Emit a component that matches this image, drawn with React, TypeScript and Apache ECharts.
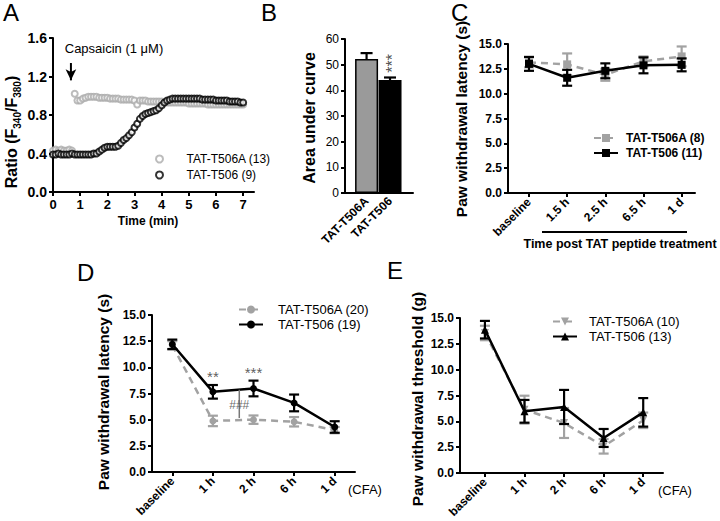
import React, { useEffect, useRef } from 'react';
import * as echarts from 'echarts';

const FONT = "'Liberation Sans', Arial, sans-serif";
const GRAY = '#a2a2a2';
const GRAY_A = '#ababab';

// Panel A: calcium imaging ratio over time
const TIME_A = [
  0, 0.1, 0.2, 0.3, 0.4, 0.5, 0.6, 0.7, 0.8, 0.9,
  1.0, 1.1, 1.2, 1.3, 1.4, 1.5, 1.6, 1.7, 1.8, 1.9,
  2.0, 2.1, 2.2, 2.3, 2.4, 2.5, 2.6, 2.7, 2.8, 2.9,
  3.0, 3.1, 3.2, 3.3, 3.4, 3.5, 3.6, 3.7, 3.8, 3.9,
  4.0, 4.1, 4.2, 4.3, 4.4, 4.5, 4.6, 4.7, 4.8, 4.9,
  5.0, 5.1, 5.2, 5.3, 5.4, 5.5, 5.6, 5.7, 5.8, 5.9,
  6.0, 6.1, 6.2, 6.3, 6.4, 6.5, 6.6, 6.7, 6.8, 6.9,
  7.0,
];
const RATIO_T506A = [
  0.43, 0.44, 0.43, 0.44, 0.43, 0.43, 0.44, 0.43, 1.02, 0.95,
  0.95, 0.97, 0.98, 0.99, 0.99, 0.99, 0.99, 0.98, 0.98, 0.98,
  0.98, 0.97, 0.97, 0.97, 0.97, 0.96, 0.96, 0.96, 0.96, 0.96,
  0.95, 0.91, 0.95, 0.95, 0.95, 0.94, 0.94, 0.94, 0.94, 0.94,
  0.94, 0.93, 0.93, 0.93, 0.93, 0.93, 0.93, 0.93, 0.93, 0.93,
  0.92, 0.92, 0.92, 0.92, 0.92, 0.92, 0.92, 0.91, 0.91, 0.91,
  0.91, 0.91, 0.91, 0.91, 0.91, 0.91, 0.91, 0.91, 0.91, 0.91,
  0.91,
];
const RATIO_T506 = [
  0.39, 0.39, 0.40, 0.39, 0.39, 0.39, 0.39, 0.40, 0.39, 0.39,
  0.39, 0.39, 0.39, 0.39, 0.39, 0.40, 0.40, 0.42, 0.44, 0.46,
  0.47, 0.47, 0.47, 0.47, 0.48, 0.51, 0.54, 0.56, 0.59, 0.62,
  0.67, 0.71, 0.76, 0.79, 0.81, 0.82, 0.83, 0.84, 0.85, 0.87,
  0.90, 0.93, 0.95, 0.96, 0.97, 0.97, 0.97, 0.97, 0.97, 0.97,
  0.97, 0.97, 0.97, 0.97, 0.97, 0.96, 0.96, 0.96, 0.96, 0.96,
  0.95, 0.95, 0.95, 0.95, 0.95, 0.94, 0.94, 0.94, 0.94, 0.93,
  0.93,
];
const TICKS_A_X = [0, 1, 2, 3, 4, 5, 6, 7];
const ARROW_A = [[0.66, 1.34], [0.66, 1.16]];

// Panel B: area under curve
const AUC_CATS = ['TAT-T506A', 'TAT-T506'];
const AUC_X = [0, 1];
const AUC_MEAN = [52.2, 44.0];
const AUC_SEM = [2.3, 1.0];

// Panels C–E
const PANEL_X = [0, 1, 2, 3, 4];
const C_CATS = ['baseline', '1.5 h', '2.5 h', '6.5 h', '1 d'];
const C_T506A = [13.15, 12.95, 11.9, 13.25, 13.75];
const C_T506A_SEM = [0.5, 1.1, 0.6, 0.5, 1.0];
const C_T506 = [13.0, 11.6, 12.3, 12.85, 12.9];
const C_T506_SEM = [0.7, 0.8, 0.75, 0.8, 0.65];

const D_CATS = ['baseline', '1 h', '2 h', '6 h', '1 d'];
const D_T506A = [12.1, 4.88, 5.0, 4.8, 4.0];
const D_T506A_SEM = [0.4, 0.5, 0.4, 0.45, 0.3];
const D_T506 = [12.2, 7.66, 7.98, 6.6, 4.3];
const D_T506_SEM = [0.45, 0.65, 0.75, 0.8, 0.55];
const D_BRACKET = [[1.65, 7.85], [1.65, 5.15]];

const E_CATS = ['baseline', '1 h', '2 h', '6 h', '1 d'];
const E_T506A = [13.55, 6.13, 4.84, 2.58, 5.1];
const E_T506A_SEM = [0.7, 1.35, 1.45, 0.7, 0.75];
const E_T506 = [13.87, 5.97, 6.39, 3.39, 5.87];
const E_T506_SEM = [0.85, 1.1, 1.65, 0.87, 1.38];

function makeErr(capHalf: number, color: string, width: number, upOnly = false) {
  return (_params: any, api: any) => {
    const x = api.value(0);
    const y = api.value(1);
    const e = api.value(2);
    const top = api.coord([x, y + e]);
    const bot = api.coord(upOnly ? [x, y] : [x, y - e]);
    const style = { stroke: color, lineWidth: width };
    const children: any[] = [
      { type: 'line', shape: { x1: top[0], y1: top[1], x2: bot[0], y2: bot[1] }, style },
      { type: 'line', shape: { x1: top[0] - capHalf, y1: top[1], x2: top[0] + capHalf, y2: top[1] }, style },
    ];
    if (!upOnly) {
      children.push({ type: 'line', shape: { x1: bot[0] - capHalf, y1: bot[1], x2: bot[0] + capHalf, y2: bot[1] }, style });
    }
    return { type: 'group', children };
  };
}

const axisLine = { show: true, onZero: false, lineStyle: { color: '#000', width: 2 } };
const axisTick = (extra: any = {}) => ({ show: true, inside: false, length: 4, lineStyle: { color: '#000', width: 2 }, ...extra });
const lbl = (fs: number, extra: any = {}) => ({ color: '#000', fontSize: fs, fontWeight: 'bold', fontFamily: FONT, margin: 6, ...extra });

function yAxisLatency(idx: number) {
  return {
    type: 'value', gridIndex: idx, min: 0, max: 15, interval: 2.5,
    axisLine, axisTick: axisTick(), splitLine: { show: false },
    axisLabel: lbl(12, { formatter: (v: number) => v.toFixed(1) }),
  };
}
function xAxisCats(idx: number, min: number, max: number, cats: string[]) {
  return {
    type: 'value', gridIndex: idx, min, max,
    axisLine, splitLine: { show: false },
    axisTick: axisTick({ customValues: PANEL_X }),
    axisLabel: lbl(12, { rotate: 45, margin: 7, customValues: PANEL_X, formatter: (v: number) => cats[Math.round(v)] ?? '' }),
  };
}

function pairs(xs: number[], ys: number[]) {
  return xs.map((x, i) => [x, ys[i]]);
}
function triples(xs: number[], ys: number[], es: number[]) {
  return xs.map((x, i) => [x, ys[i], es[i]]);
}

function lineSeries(name: string, idx: number, ys: number[], gray: boolean, symbol: string, size: number, rotate = 0) {
  return {
    type: 'line', name, xAxisIndex: idx, yAxisIndex: idx,
    data: pairs(PANEL_X, ys),
    symbol, symbolSize: size, symbolRotate: rotate, showSymbol: true,
    lineStyle: gray ? { color: GRAY, width: 2.5, type: [7, 5] } : { color: '#000', width: 2.5 },
    itemStyle: { color: gray ? GRAY : '#000' },
    z: gray ? 3 : 5,
  };
}
function errSeries(idx: number, ys: number[], es: number[], gray: boolean) {
  return {
    type: 'custom', xAxisIndex: idx, yAxisIndex: idx,
    renderItem: makeErr(5, gray ? GRAY : '#000', 2.2),
    data: triples(PANEL_X, ys, es),
    z: gray ? 2 : 4,
    silent: true,
  };
}

function textAnno(idx: number, items: { name: string; value: number[] }[], fontSize: number, color: string, extra: any = {}) {
  return {
    type: 'scatter', xAxisIndex: idx, yAxisIndex: idx, silent: true,
    symbolSize: 1, itemStyle: { color: 'rgba(0,0,0,0)' },
    label: { show: true, position: 'inside', color, fontSize, fontFamily: FONT, formatter: (p: any) => p.name, ...extra },
    data: items, z: 10,
  };
}

function title(text: string, x: number, y: number, fs = 17, rotate = true, extra: any = {}) {
  return {
    type: 'text', x, y, rotation: rotate ? Math.PI / 2 : 0,
    style: {
      text, fill: '#000', font: `bold ${fs}px ${FONT}`,
      textAlign: 'center', textVerticalAlign: 'middle', align: 'center', verticalAlign: 'middle', ...extra,
    },
  };
}
function letter(text: string, x: number, y: number) {
  return { type: 'text', x, y, style: { text, fill: '#000', font: `24px ${FONT}`, textVerticalAlign: 'top', verticalAlign: 'top' } };
}

export default function App() {
  const ref = useRef<HTMLDivElement>(null);
  useEffect(() => {
    if (!ref.current) return;
    const chart = echarts.init(ref.current, undefined, { renderer: 'svg' });
    const legendText = (fs: number, bold: boolean, padLeft: number) => ({
      color: '#000', fontSize: fs, fontFamily: FONT, fontWeight: bold ? 'bold' : 'normal', padding: [0, 0, 0, padLeft],
    });
    const option: any = {
      animation: false,
      backgroundColor: '#fff',
      grid: [
        { left: 53, top: 38, width: 201, height: 154 },
        { left: 345, top: 39, width: 68, height: 154 },
        { left: 508, top: 44, width: 187, height: 149 },
        { left: 152, top: 315, width: 203, height: 157 },
        { left: 460, top: 318, width: 203, height: 155 },
      ],
      xAxis: [
        {
          type: 'value', gridIndex: 0, min: 0, max: 7.4,
          axisLine, splitLine: { show: false },
          axisTick: axisTick({ customValues: TICKS_A_X }),
          axisLabel: lbl(13, { customValues: TICKS_A_X, margin: 6 }),
        },
        {
          type: 'value', gridIndex: 1, min: -0.92, max: 1.98,
          axisLine, splitLine: { show: false }, axisTick: { show: false },
          axisLabel: lbl(12, { rotate: 45, margin: 6, customValues: AUC_X, formatter: (v: number) => AUC_CATS[Math.round(v)] ?? '' }),
        },
        xAxisCats(2, -0.55, 4.35, C_CATS),
        xAxisCats(3, -0.5, 4.5, D_CATS),
        xAxisCats(4, -0.63, 4.5, E_CATS),
      ],
      yAxis: [
        {
          type: 'value', gridIndex: 0, min: 0, max: 1.6, interval: 0.4,
          axisLine, axisTick: axisTick(), splitLine: { show: false },
          axisLabel: lbl(14, { formatter: (v: number) => v.toFixed(1) }),
        },
        {
          type: 'value', gridIndex: 1, min: 0, max: 60, interval: 10,
          axisLine, axisTick: axisTick(), splitLine: { show: false },
          axisLabel: lbl(12, { fontWeight: 'normal' }),
        },
        yAxisLatency(2),
        yAxisLatency(3),
        yAxisLatency(4),
      ],
      legend: [
        {
          data: ['TAT-T506A (13)', 'TAT-T506 (9)'], orient: 'vertical', left: 150, top: 148,
          itemWidth: 44, itemHeight: 7, itemGap: 4, textStyle: legendText(12, false, 0), selectedMode: false,
        },
        {
          data: ['TAT-T506A (8)', 'TAT-T506 (11)'], orient: 'vertical', left: 588, top: 127,
          itemWidth: 24, itemHeight: 10, itemGap: 3, textStyle: legendText(12, true, 3), selectedMode: false,
        },
        {
          data: ['TAT-T506A (20)', 'TAT-T506 (19)'], orient: 'vertical', left: 233, top: 298,
          itemWidth: 24, itemHeight: 10, itemGap: 2, textStyle: legendText(13, false, 10), selectedMode: false,
        },
        {
          data: ['TAT-T506A (10)', 'TAT-T506 (13)'], orient: 'vertical', left: 547, top: 310,
          itemWidth: 24, itemHeight: 10, itemGap: 2, textStyle: legendText(13, false, 7), selectedMode: false,
        },
      ],
      series: [
        // A
        {
          type: 'scatter', name: 'TAT-T506A (13)', xAxisIndex: 0, yAxisIndex: 0,
          data: pairs(TIME_A, RATIO_T506A), symbol: 'emptyCircle', symbolSize: 6,
          itemStyle: { color: GRAY_A, borderColor: GRAY_A, borderWidth: 1.8 }, z: 2,
        },
        {
          type: 'scatter', name: 'TAT-T506 (9)', xAxisIndex: 0, yAxisIndex: 0,
          data: pairs(TIME_A, RATIO_T506), symbol: 'emptyCircle', symbolSize: 6,
          itemStyle: { color: '#000', borderColor: '#000', borderWidth: 1.8 }, z: 3,
        },
        {
          type: 'line', xAxisIndex: 0, yAxisIndex: 0, silent: true,
          data: [
            { value: ARROW_A[0], symbol: 'none' },
            { value: ARROW_A[1], symbol: 'arrow', symbolRotate: 180, symbolSize: [8, 11] },
          ],
          lineStyle: { color: '#000', width: 2 }, itemStyle: { color: '#000' }, z: 6,
        },
        // B
        {
          type: 'bar', xAxisIndex: 1, yAxisIndex: 1, barWidth: 23,
          data: AUC_X.map((x, i) => ({ value: [x, AUC_MEAN[i]], itemStyle: { color: i === 0 ? '#9a9a9a' : '#000' } })),
          itemStyle: { borderColor: '#000', borderWidth: 1.5 }, z: 2,
        },
        {
          type: 'custom', xAxisIndex: 1, yAxisIndex: 1, silent: true,
          renderItem: makeErr(6, '#000', 2.2, true),
          data: triples(AUC_X, AUC_MEAN, AUC_SEM), z: 3,
        },
        textAnno(1, [{ name: '***', value: [1.12, 50.5] }], 16, '#222', { rotate: 90 }),
        // C
        errSeries(2, C_T506A, C_T506A_SEM, true),
        lineSeries('TAT-T506A (8)', 2, C_T506A, true, 'rect', 8),
        errSeries(2, C_T506, C_T506_SEM, false),
        lineSeries('TAT-T506 (11)', 2, C_T506, false, 'rect', 8),
        // D
        errSeries(3, D_T506A, D_T506A_SEM, true),
        lineSeries('TAT-T506A (20)', 3, D_T506A, true, 'circle', 7),
        errSeries(3, D_T506, D_T506_SEM, false),
        lineSeries('TAT-T506 (19)', 3, D_T506, false, 'circle', 7),
        {
          type: 'line', xAxisIndex: 3, yAxisIndex: 3, silent: true, data: D_BRACKET, symbol: 'none',
          lineStyle: { color: '#777', width: 1.5 }, z: 6,
        },
        textAnno(3, [
          { name: '**', value: [1, 9.1] },
          { name: '***', value: [2, 9.5] },
        ], 15, '#333'),
        textAnno(3, [{ name: '###', value: [1.65, 6.4] }], 12, '#444'),
        // E
        errSeries(4, E_T506A, E_T506A_SEM, true),
        lineSeries('TAT-T506A (10)', 4, E_T506A, true, 'triangle', 8, 180),
        errSeries(4, E_T506, E_T506_SEM, false),
        lineSeries('TAT-T506 (13)', 4, E_T506, false, 'triangle', 8),
      ],
      graphic: [
        letter('A', 3, 0),
        letter('B', 261, 0),
        letter('C', 451, 0),
        letter('D', 77, 260),
        letter('E', 387, 258),
        {
          type: 'text', x: 11, y: 132, rotation: Math.PI / 2,
          style: {
            text: '{n|Ratio (F}{s|340}{n|/F}{s|380}{n|)}',
            textAlign: 'center', textVerticalAlign: 'middle', align: 'center', verticalAlign: 'middle',
            rich: {
              n: { fontSize: 16, fontWeight: 'bold', fontFamily: FONT, lineHeight: 22, fill: '#000', color: '#000' },
              s: { fontSize: 10, fontWeight: 'bold', fontFamily: FONT, lineHeight: 22, verticalAlign: 'bottom', fill: '#000', color: '#000' },
            },
          },
        },
        title('Time (min)', 148, 221, 12, false),
        { type: 'text', x: 114, y: 48, style: { text: 'Capsaicin (1 μM)', fill: '#000', font: `13px ${FONT}`, textAlign: 'center', textVerticalAlign: 'middle', align: 'center', verticalAlign: 'middle' } },
        title('Area under curve', 309, 118, 16),
        title('Paw withdrawal latency (s)', 461, 119, 15.5),
        { type: 'line', shape: { x1: 542, y1: 232, x2: 687, y2: 232 }, style: { stroke: '#000', lineWidth: 2 } },
        title('Time post TAT peptide treatment', 620, 244, 12.5, false),
        title('Paw withdrawal latency (s)', 103, 392, 15.5),
        title('Paw withdrawal threshold (g)', 417, 399, 15.5),
        { type: 'text', x: 348, y: 489, style: { text: '(CFA)', fill: '#000', font: `13px ${FONT}`, textVerticalAlign: 'middle', verticalAlign: 'middle' } },
        { type: 'text', x: 658, y: 490, style: { text: '(CFA)', fill: '#000', font: `13px ${FONT}`, textVerticalAlign: 'middle', verticalAlign: 'middle' } },
      ],
    };
    chart.setOption(option);
    return () => chart.dispose();
  }, []);
  return <div ref={ref} style={{ position: 'fixed', left: 0, top: 0, width: 720, height: 521, background: '#fff' }} />;
}
